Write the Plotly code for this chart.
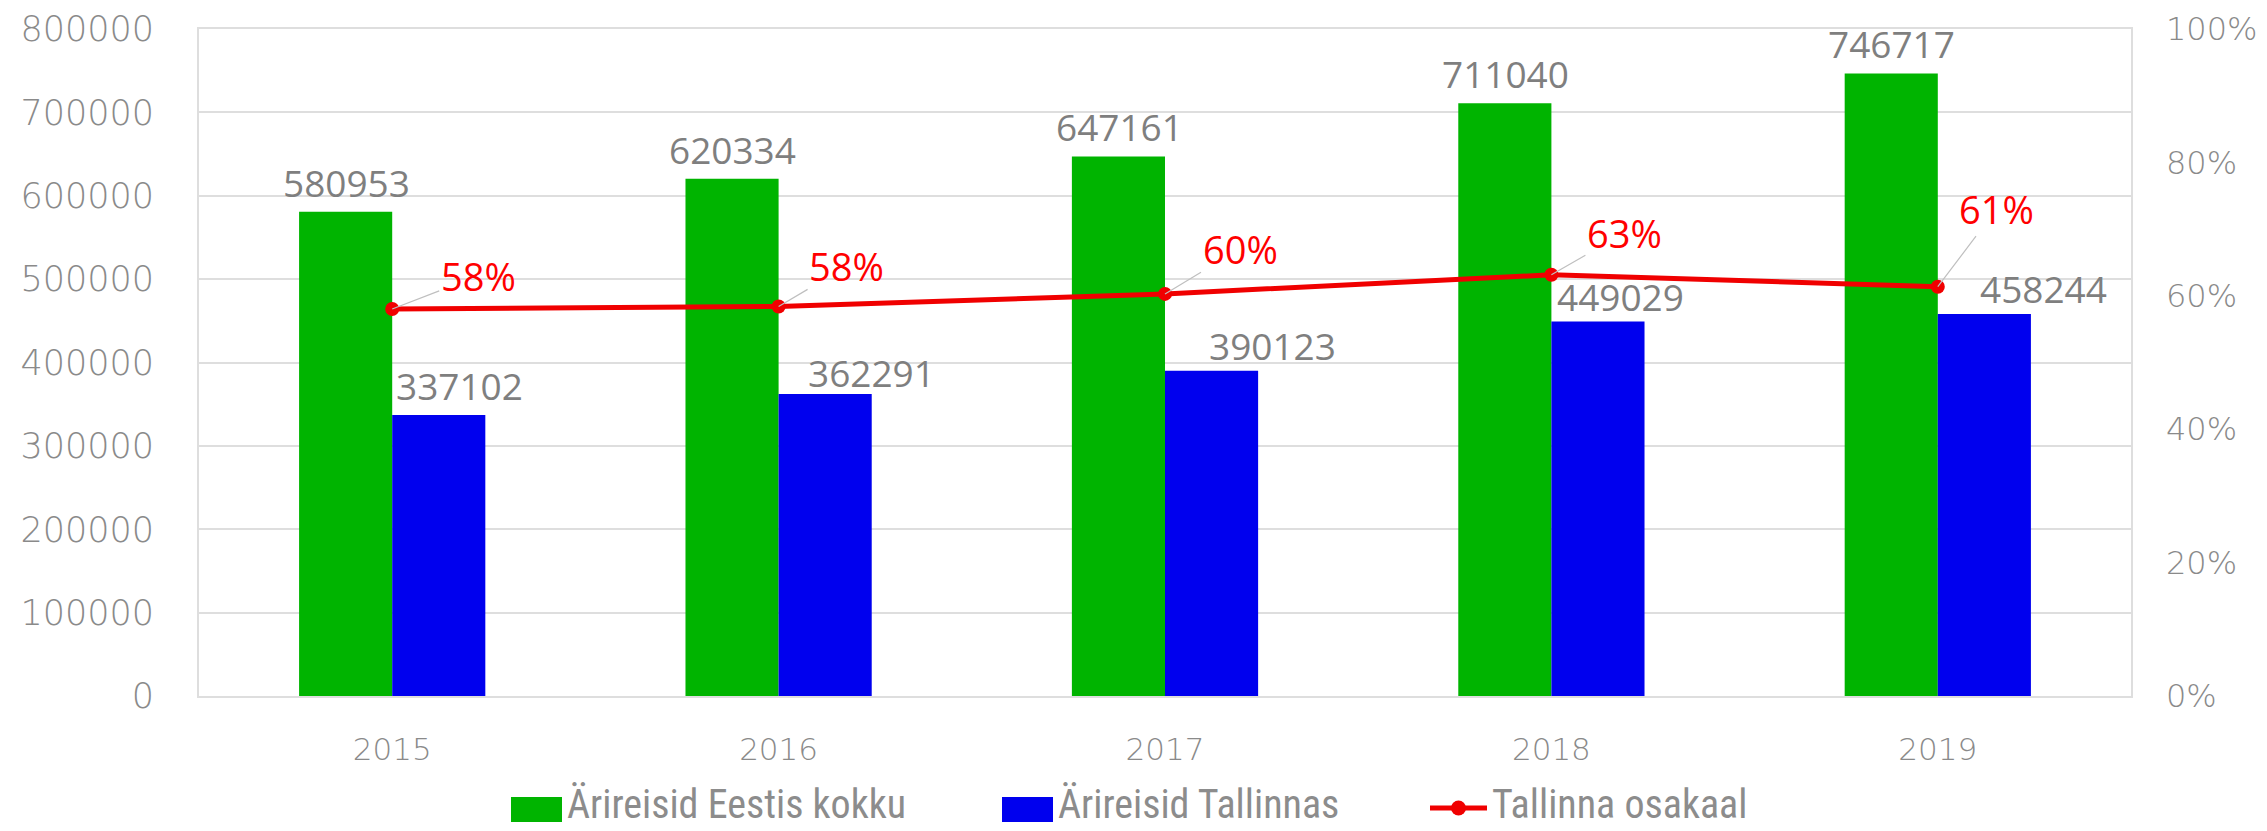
import plotly.graph_objects as go

years = ["2015", "2016", "2017", "2018", "2019"]
eesti = [580953, 620334, 647161, 711040, 746717]
tallinn = [337102, 362291, 390123, 449029, 458244]
share = [t / e for t, e in zip(tallinn, eesti)]
share_labels = ["58%", "58%", "60%", "63%", "61%"]

names = ["Ärireisid Eestis kokku", "Ärireisid Tallinnas", "Tallinna osakaal"]
left_ticks = [0, 100000, 200000, 300000, 400000, 500000, 600000, 700000, 800000]
right_ticks = [0, 0.2, 0.4, 0.6, 0.8, 1.0]

GREEN = "#00B400"
BLUE = "#0000EE"
RED = "#F00000"
GRID = "#dedede"
TXT = "#7f7f7f"
TICK = "#8a8a8a"
FONT = "Open Sans, Lato, DejaVu Sans, sans-serif"
TFONT = "DejaVu Sans, Open Sans, sans-serif"
LFONT = "Roboto Condensed, Liberation Sans Narrow, Arial Narrow, Open Sans, sans-serif"

W, H = 2267, 831
ML, MR, MT, MB = 199, 136, 29, 135
PW, PH = W - ML - MR, H - MT - MB


def px2x(px):
    return (px - ML) / PW


def py2y(py):
    return (H - MB - py) / PH


# label placement styling (pixel offsets)
blue_dx = [21, 47, 61, 23, 60]
blue_dy = [8, 0, 4, 4, 4]
pct_ax = [86, 68, 75, 73, 59]
pct_ay = [-33, -40, -45, -42, -78]

fig = go.Figure()
fig.add_trace(go.Bar(x=years, y=eesti, name=names[0], marker_color=GREEN,
                     marker_line_width=0, showlegend=False))
fig.add_trace(go.Bar(x=years, y=tallinn, name=names[1], marker_color=BLUE,
                     marker_line_width=0, showlegend=False))
fig.add_trace(go.Scatter(x=years, y=share, name=names[2], yaxis="y2",
                         mode="lines+markers", showlegend=False,
                         line=dict(color=RED, width=5),
                         marker=dict(color=RED, size=14)))

annotations = []
for i, y in enumerate(years):
    annotations.append(dict(x=i, y=eesti[i], xref="x", yref="y", text=str(eesti[i]),
                            showarrow=False, xshift=-46, yshift=2, yanchor="bottom",
                            font=dict(family=FONT, size=37, color=TXT)))
    annotations.append(dict(x=i, y=tallinn[i], xref="x", yref="y", text=str(tallinn[i]),
                            showarrow=False, xshift=46 + blue_dx[i], yshift=blue_dy[i] - 6,
                            yanchor="bottom",
                            font=dict(family=FONT, size=37, color=TXT)))
    annotations.append(dict(x=i, y=share[i], xref="x", yref="y2", text=share_labels[i],
                            showarrow=True, ax=pct_ax[i], ay=pct_ay[i], axref="pixel",
                            ayref="pixel", arrowhead=0, arrowwidth=1.2,
                            arrowcolor="#bfbfbf", standoff=0,
                            font=dict(family=FONT, size=38, color="#FF0000")))

# legend drawn as keys + text
LEG_Y = 808
shapes = [
    dict(type="rect", xref="paper", yref="paper", x0=px2x(511), x1=px2x(562),
         y0=py2y(822), y1=py2y(797), fillcolor=GREEN, line_width=0),
    dict(type="rect", xref="paper", yref="paper", x0=px2x(1002), x1=px2x(1053),
         y0=py2y(822), y1=py2y(797), fillcolor=BLUE, line_width=0),
    dict(type="line", xref="paper", yref="paper", x0=px2x(1430), x1=px2x(1487),
         y0=py2y(LEG_Y), y1=py2y(LEG_Y), line=dict(color=RED, width=5)),
    dict(type="circle", xref="paper", yref="paper", x0=px2x(1451), x1=px2x(1466),
         y0=py2y(LEG_Y + 7.5), y1=py2y(LEG_Y - 7.5), fillcolor=RED, line_width=0),
]
for name, px in zip(names, [565, 1056, 1490]):
    annotations.append(dict(x=px2x(px), y=py2y(830), xref="paper", yref="paper",
                            text=name, showarrow=False, xanchor="left", yanchor="bottom",
                            font=dict(family=LFONT, size=40, color="#8c8c8c")))

fig.update_layout(
    width=W, height=H,
    paper_bgcolor="white", plot_bgcolor="white",
    margin=dict(l=ML, r=MR, t=MT, b=MB, autoexpand=False),
    barmode="group", bargap=0.518, bargroupgap=0,
    font=dict(family=FONT, color=TICK),
    showlegend=False,
    annotations=annotations,
    shapes=shapes,
    xaxis=dict(type="category", range=[-0.5, 4.5], showgrid=False, automargin=False,
               showline=True, linecolor=GRID, linewidth=2, mirror=True,
               ticks="", ticklabelstandoff=25,
               tickfont=dict(family=TFONT, size=31, color=TICK, weight=300)),
    yaxis=dict(range=[0, 800000], tickvals=left_ticks, automargin=False,
               ticktext=[str(v) for v in left_ticks],
               showgrid=True, gridcolor=GRID, gridwidth=1.5,
               showline=True, linecolor=GRID, linewidth=2, mirror=True,
               zeroline=False, ticks="", ticklabelstandoff=36,
               tickfont=dict(family=TFONT, size=35, color=TICK, weight=300)),
    yaxis2=dict(range=[0, 1], overlaying="y", side="right", tickvals=right_ticks,
                tickformat=".0%", showgrid=False, zeroline=False, automargin=False,
                ticks="", ticklabelstandoff=34,
                tickfont=dict(family=TFONT, size=32, color=TICK, weight=300)),
)

fig.write_html("out.html", config={"displayModeBar": False},
               post_script="document.body.style.margin='0';document.body.style.overflow='hidden';")
